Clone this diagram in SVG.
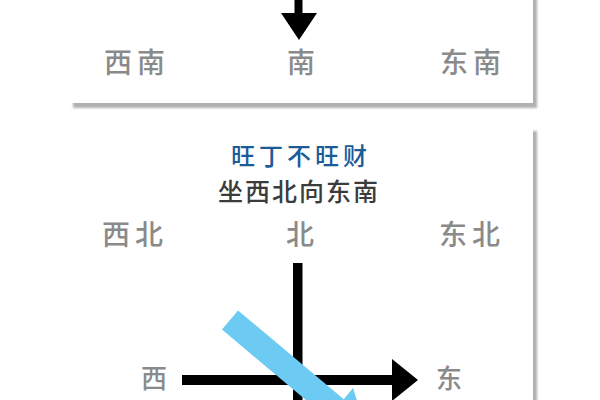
<svg xmlns="http://www.w3.org/2000/svg" width="600" height="400" viewBox="0 0 600 400">
<defs>
<filter id="blur" x="-10%" y="-10%" width="120%" height="120%"><feGaussianBlur stdDeviation="1.3"/></filter>
</defs>
<style>
text{font-family:"Noto Sans CJK SC","Noto Sans",sans-serif;font-weight:500}
.lbl{fill:#8a8a8a;font-size:28px;letter-spacing:5px}
.title{fill:#1b5b98;font-size:24px;letter-spacing:4px}
.sub{fill:#3c3c3c;font-size:25px;letter-spacing:2px}
.shadow{fill:#b0b0b0;filter:url(#blur)}
.card{fill:#ffffff}
</style>
<rect width="600" height="400" fill="#ffffff"/>
<g id="card1">
<rect class="shadow" x="73" y="-20" width="464" height="128"/>
<rect class="card" x="70" y="-20" width="463" height="123"/>
<rect x="294.5" y="0" width="8" height="15" fill="#000"/>
<polygon points="281,13 317,13 299,40" fill="#000"/>
<text class="lbl" x="104" y="73">西南</text>
<text class="lbl" x="287" y="73">南</text>
<text class="lbl" x="440" y="73">东南</text>
</g>
<g id="card2">
<rect class="shadow" x="73" y="131" width="464" height="300"/>
<rect class="card" x="70" y="128" width="463" height="300"/>
<text class="title" x="231" y="165">旺丁不旺财</text>
<text class="sub" x="218" y="201">坐西北向东南</text>
<text class="lbl" x="102" y="245">西北</text>
<text class="lbl" x="286" y="245">北</text>
<text class="lbl" x="439" y="245">东北</text>
<text class="lbl" x="141" y="388" style="font-size:26px">西</text>
<text class="lbl" x="436" y="388" style="font-size:26px">东</text>
</g>
<g id="connectors">
<rect x="293" y="263" width="9.5" height="140" fill="#000"/>
<rect x="182" y="375" width="212" height="10" fill="#000"/>
<polygon points="392,359 418,380 392,401" fill="#000"/>
<g transform="translate(230,320) rotate(40)">
<polygon points="0,-12.5 138,-12.5 138,-27 180,0 138,27 138,12.5 0,12.5" fill="#6ccaf3"/>
</g>
</g>
</svg>
